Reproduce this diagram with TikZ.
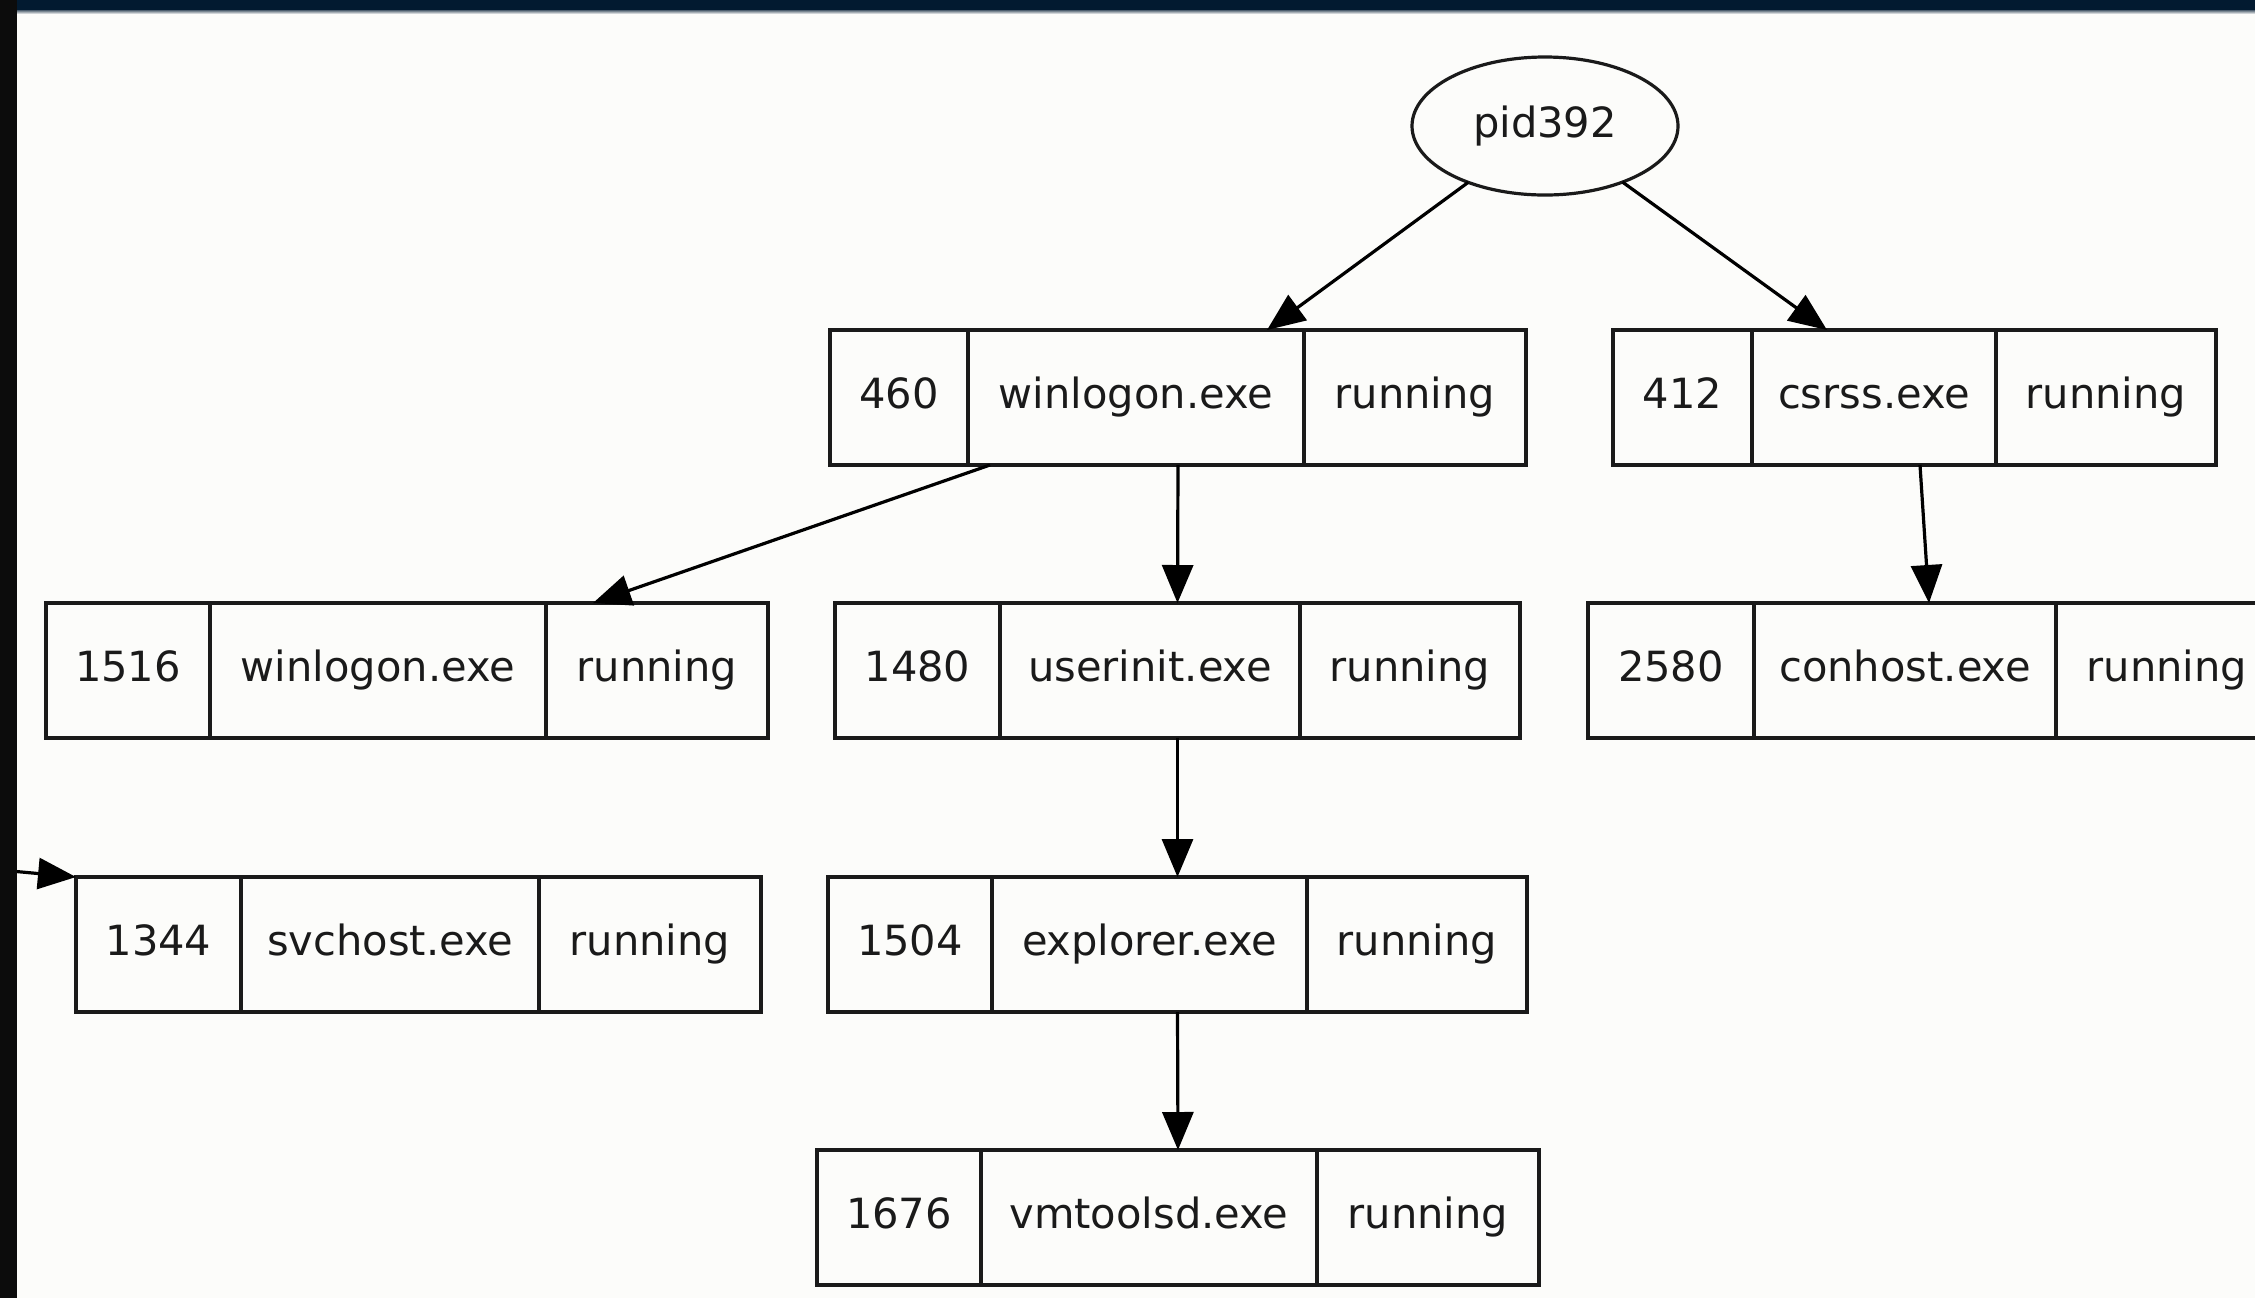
\documentclass[tikz,border=0pt]{standalone}
\usepackage{fontspec}
\setmainfont{DejaVu Sans}
\usetikzlibrary{shapes.geometric,arrows.meta}

\definecolor{paper}{HTML}{FCFCFA}
\definecolor{topbar}{HTML}{021A30}
\definecolor{sidebar}{HTML}{0C0C0C}
\definecolor{ink}{HTML}{1A1A1A}

\tikzset{
  labeltext/.style={text=ink, font=\fontsize{20.8pt}{25pt}\selectfont,
    text height=15.5pt, text depth=4.3pt},
  cell/.style={draw=ink, line width=1.6pt, rectangle, inner sep=0pt, outer sep=0pt,
    minimum height=67.5pt, anchor=north west, labeltext},
  recframe/.style={rectangle, inner sep=0pt, outer sep=0pt, minimum height=67.5pt,
    anchor=north west},
  rootnode/.style={draw=ink, line width=1.6pt, ellipse, inner sep=0pt, outer sep=0pt,
    minimum width=133pt, minimum height=69pt, labeltext},
  edge/.style={draw=black, line width=1.6pt, -{Triangle[length=19pt, width=15.5pt]}},
}

% one process record: name, x0, x1, x2, x3 (cell borders), top y, pid, image, state
\newcommand\procrec[9]{%
  \pgfmathsetmacro\wa{(#3-#2)*0.5}%
  \pgfmathsetmacro\wb{(#4-#3)*0.5}%
  \pgfmathsetmacro\wc{(#5-#4)*0.5}%
  \pgfmathsetmacro\wall{(#5-#2)*0.5}%
  \node[recframe, minimum width=\wall pt] (#1) at (#2,#6) {};
  \node[cell, minimum width=\wa pt] (#1-pid) at (#2,#6) {#7};
  \node[cell, minimum width=\wb pt] (#1-img) at (#3,#6) {#8};
  \node[cell, minimum width=\wc pt] (#1-st) at (#4,#6) {#9};
}

\begin{document}
\begin{tikzpicture}[x=0.5pt, y=-0.5pt]
  \useasboundingbox (0,0) rectangle (2255,1298);
  \clip (0,0) rectangle (2255,1298);

  % backdrop and window edges
  \fill[paper] (0,0) rectangle (2255,1298);
  \fill[topbar] (0,0) rectangle (2255,10);
  \shade[top color=topbar!70, bottom color=paper] (0,10) rectangle (2255,14);
  \fill[sidebar] (0,0) rectangle (17,1298);

  % root
  \node[rootnode] (p392) at (1545,126) {pid392};

  % process records
  \procrec{r460}{830}{968}{1304}{1526}{330}{460}{winlogon.exe}{running}
  \procrec{r412}{1613}{1752}{1996}{2216}{330}{412}{csrss.exe}{running}
  \procrec{r1516}{46}{210}{546}{768}{603}{1516}{winlogon.exe}{running}
  \procrec{r1480}{835}{1000}{1300}{1520}{603}{1480}{userinit.exe}{running}
  \procrec{r2580}{1588}{1754}{2056}{2278}{603}{2580}{conhost.exe}{running}
  \procrec{r1344}{76}{241}{539}{761}{877}{1344}{svchost.exe}{running}
  \procrec{r1504}{828}{992}{1307}{1527}{877}{1504}{explorer.exe}{running}
  \procrec{r1676}{817}{981}{1317}{1539}{1150}{1676}{vmtoolsd.exe}{running}

  % incoming link from outside the view
  \coordinate (in1344) at (0,870);

  % parent -> child links
  \draw[edge] (p392) -- ([xshift=218.5pt]r460.north west);
  \draw[edge] (p392) -- ([xshift=107pt]r412.north west);
  \draw[edge] ([xshift=80pt]r460.south west) -- ([xshift=273.5pt]r1516.north west);
  \draw[edge] (r460.south) -- (r1480.north);
  \draw[edge] ([xshift=153.5pt]r412.south west) -- ([xshift=170.5pt]r2580.north west);
  \draw[edge] (r1480.south) -- (r1504.north);
  \draw[edge] (r1504.south) -- (r1676.north);
  \draw[edge] (in1344) -- (r1344.north west);

  % left window edge drawn over the incoming link
  \fill[sidebar] (0,0) rectangle (17,1298);
\end{tikzpicture}
\end{document}
